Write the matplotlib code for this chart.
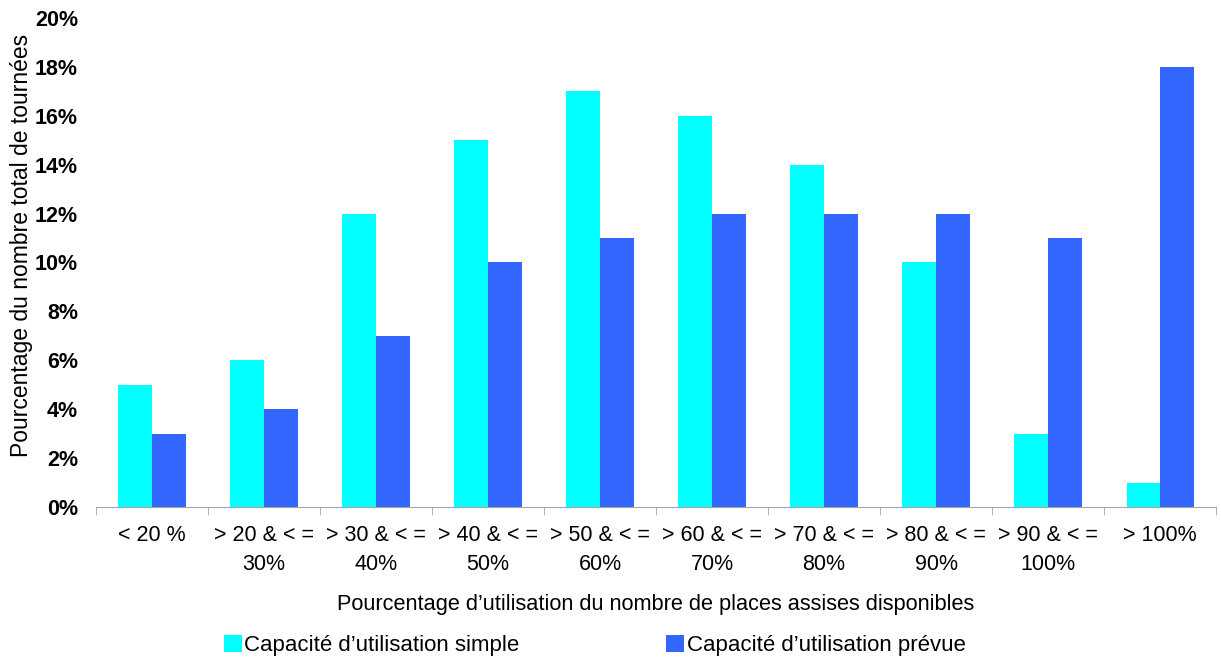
import matplotlib
matplotlib.use("Agg")
import matplotlib.pyplot as plt
import numpy as np
from matplotlib.ticker import FuncFormatter, FixedLocator

plt.rcParams['font.family'] = ['Liberation Sans', 'DejaVu Sans']

categories = ["< 20 %", "> 20 & < =\n30%", "> 30 & < =\n40%", "> 40 & < =\n50%",
              "> 50 & < =\n60%", "> 60 & < =\n70%", "> 70 & < =\n80%", "> 80 & < =\n90%",
              "> 90 & < =\n100%", "> 100%"]
simple = [5, 6, 12, 15, 17, 16, 14, 10, 3, 1]
prevue = [3, 4, 7, 10, 11, 12, 12, 12, 11, 18]
series_names = ["Capacité d\u2019utilisation simple", "Capacité d\u2019utilisation prévue"]
colors = ["#00FFFF", "#3366FF"]

fig = plt.figure(figsize=(12.21, 6.59), dpi=100)
ax = fig.add_axes([0.0786, 0.2307, 0.9174, 0.742])

x = np.arange(len(categories))
w = 0.30
ax.bar(x - w / 2, simple, width=w, color=colors[0], label=series_names[0])
ax.bar(x + w / 2, prevue, width=w, color=colors[1], label=series_names[1])

ax.set_xlim(-0.5, len(categories) - 0.5)
ax.set_ylim(0, 20)
ax.set_yticks(np.arange(0, 21, 2))
ax.yaxis.set_major_formatter(FuncFormatter(lambda v, p: f"{int(v)}%"))
for lbl in ax.get_yticklabels():
    lbl.set_fontweight("bold")
ax.tick_params(axis="y", length=0, labelsize=15.5, pad=13)

ax.set_xticks(x)
ax.set_xticklabels(categories, fontsize=15.5, linespacing=1.5)
ax.xaxis.set_minor_locator(FixedLocator(np.arange(-0.5, len(categories), 1)))
ax.tick_params(axis="x", which="major", length=0, pad=13)
ax.tick_params(axis="x", which="minor", length=6, color="#A6A6A6", direction="out")

for s in ["top", "right", "left"]:
    ax.spines[s].set_visible(False)
ax.spines["bottom"].set_color("#A6A6A6")

ax.set_ylabel("Pourcentage du nombre total de tournées", fontsize=16.5)
ax.yaxis.set_label_coords(-0.056, 0.534)
ax.set_xlabel("Pourcentage d\u2019utilisation du nombre de places assises disponibles",
              fontsize=15.7, labelpad=14)

fig.legend(loc="lower center", bbox_to_anchor=(0.487, -0.026), ncol=2, frameon=False,
           fontsize=16, handlelength=0.8, handleheight=0.8, handletextpad=0.12,
           columnspacing=6.6)

fig.savefig("out.png", dpi=100)
